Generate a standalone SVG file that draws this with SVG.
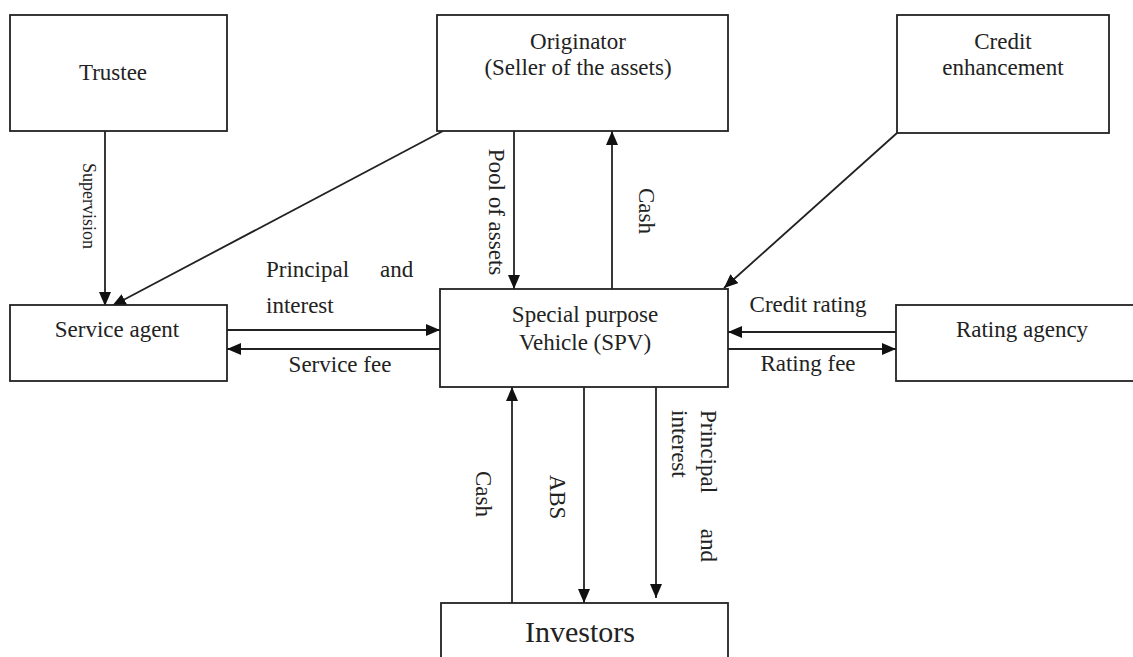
<svg xmlns="http://www.w3.org/2000/svg" width="1133" height="657" viewBox="0 0 1133 657">
<style>
.box{fill:#fff;stroke:#222;stroke-width:1.8}
.t{font-family:"Liberation Serif","Times New Roman",serif;font-size:23px;fill:#222}
.m{text-anchor:middle}
.c{fill:none;stroke:#222;stroke-width:1.8}
</style>
<defs>
<marker id="ah" markerUnits="userSpaceOnUse" markerWidth="14" markerHeight="12" viewBox="0 0 14 12" refX="14" refY="6" orient="auto">
<path d="M0,0 L14,6 L0,12 z" fill="#111"/>
</marker>
</defs>
<rect width="1133" height="657" fill="#fff"/>
<g id="connectors">
<path class="c" d="M105,131 V306" marker-end="url(#ah)"/>
<path class="c" d="M443,131 L112,306" marker-end="url(#ah)"/>
<path class="c" d="M514,131 V289" marker-end="url(#ah)"/>
<path class="c" d="M612,289 V131" marker-end="url(#ah)"/>
<path class="c" d="M897,133 L724,288" marker-end="url(#ah)"/>
<path class="c" d="M227,330 H440" marker-end="url(#ah)"/>
<path class="c" d="M440,349 H227" marker-end="url(#ah)"/>
<path class="c" d="M896,332 H728" marker-end="url(#ah)"/>
<path class="c" d="M728,349 H896" marker-end="url(#ah)"/>
<path class="c" d="M512,603 V387" marker-end="url(#ah)"/>
<path class="c" d="M584,387 V603" marker-end="url(#ah)"/>
<path class="c" d="M656,387 V598" marker-end="url(#ah)"/>
<text class="t m" style="font-size:18px" transform="translate(83,206) rotate(90)">Supervision</text>
<text class="t m" transform="translate(489,212) rotate(90)">Pool of assets</text>
<text class="t m" transform="translate(639,211) rotate(90)">Cash</text>
<text class="t" x="266" y="277">Principal</text>
<text class="t" x="380" y="277">and</text>
<text class="t" x="266" y="313">interest</text>
<text class="t m" x="340" y="372">Service fee</text>
<text class="t m" x="808" y="312">Credit rating</text>
<text class="t m" x="808" y="371">Rating fee</text>
<text class="t m" transform="translate(476,494) rotate(90)">Cash</text>
<text class="t m" transform="translate(550,497) rotate(90)">ABS</text>
<g transform="translate(701,410) rotate(90)">
<text class="t" x="0" y="0">Principal</text>
<text class="t" x="152" y="0" text-anchor="end">and</text>
<text class="t" x="0" y="29">interest</text>
</g>
</g>
<g id="trustee">
<rect class="box" x="10" y="15" width="217" height="116"/>
<text class="t m" x="113" y="80">Trustee</text>
</g>
<g id="originator">
<rect class="box" x="437" y="15" width="291" height="116"/>
<text class="t m" x="578" y="49">Originator</text>
<text class="t m" x="578" y="75">(Seller of the assets)</text>
</g>
<g id="credit-enhancement">
<rect class="box" x="897" y="15" width="212" height="118"/>
<text class="t m" x="1003" y="49">Credit</text>
<text class="t m" x="1003" y="75">enhancement</text>
</g>
<g id="service-agent">
<rect class="box" x="10" y="305" width="217" height="76"/>
<text class="t m" x="117" y="337">Service agent</text>
</g>
<g id="spv">
<rect class="box" x="440" y="289" width="288" height="98"/>
<text class="t m" x="585" y="322">Special purpose</text>
<text class="t m" x="585" y="350">Vehicle (SPV)</text>
</g>
<g id="rating-agency">
<rect class="box" x="896" y="305" width="250" height="76"/>
<text class="t m" x="1022" y="337">Rating agency</text>
</g>
<g id="investors">
<rect class="box" x="441" y="603" width="287" height="70"/>
<text class="t m" style="font-size:30px" x="580" y="642">Investors</text>
</g>
</svg>
